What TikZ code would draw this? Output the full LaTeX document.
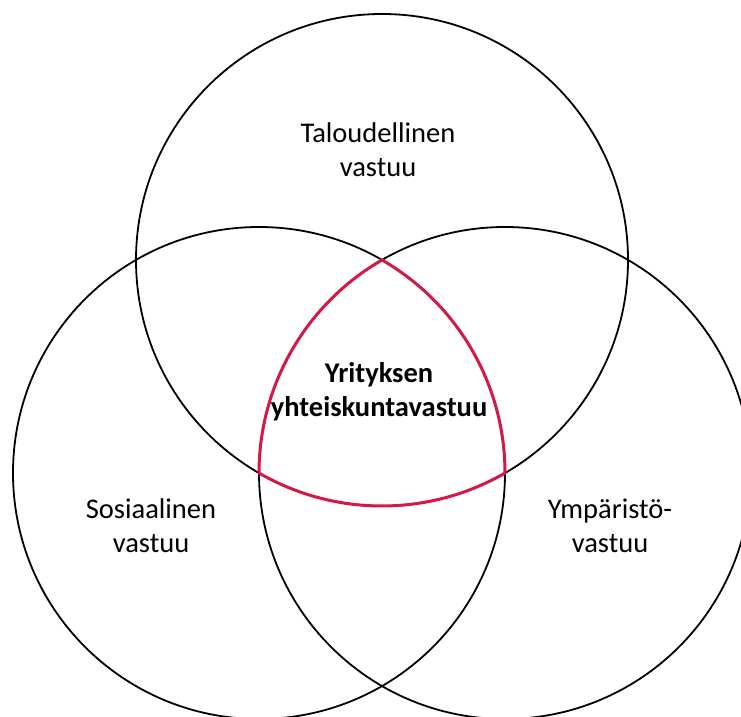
\documentclass[tikz,border=0pt]{standalone}
\usepackage{fontspec}
\setmainfont{Carlito}
\usepackage{tikz}
\usetikzlibrary{positioning}
\definecolor{ydinpuna}{RGB}{214,24,70}

\begin{document}
\begin{tikzpicture}[x=1pt,y=1pt,
  ympyra/.style={circle,draw=black,line width=1.8pt,inner sep=0pt,minimum size=492pt},
  teksti/.style={align=center,inner sep=0pt,font=\fontsize{28.5}{34}\selectfont},
  ydin/.style={draw=ydinpuna,line width=3pt,line join=round}]

  \useasboundingbox (0,0) rectangle (741,716);

  % the three circles
  \node[ympyra] (talous) at (382,456) {};
  \node[ympyra] (sosiaali) at (259,243) {};
  \node[ympyra] (ymparisto) at (505,243) {};

  % common area in red
  \path[ydin] (talous.center)
    arc[start angle=120,end angle=180,radius=246]
    arc[start angle=240,end angle=300,radius=246]
    arc[start angle=0,end angle=60,radius=246] -- cycle;

  % labels
  \node[teksti] (talousteksti) at (378,566.5) {Taloudellinen\\vastuu};
  \node[teksti,font=\fontsize{28.5}{34}\selectfont\bfseries] (ydinteksti) at (379,324) {Yrityksen\\yhteiskuntavastuu};
  \node[teksti] (sosiaaliteksti) at (151,190.5) {Sosiaalinen\\vastuu};
  \node[teksti] (ymparistoteksti) at (610,190) {Ympäristö-\\vastuu};
\end{tikzpicture}
\end{document}
